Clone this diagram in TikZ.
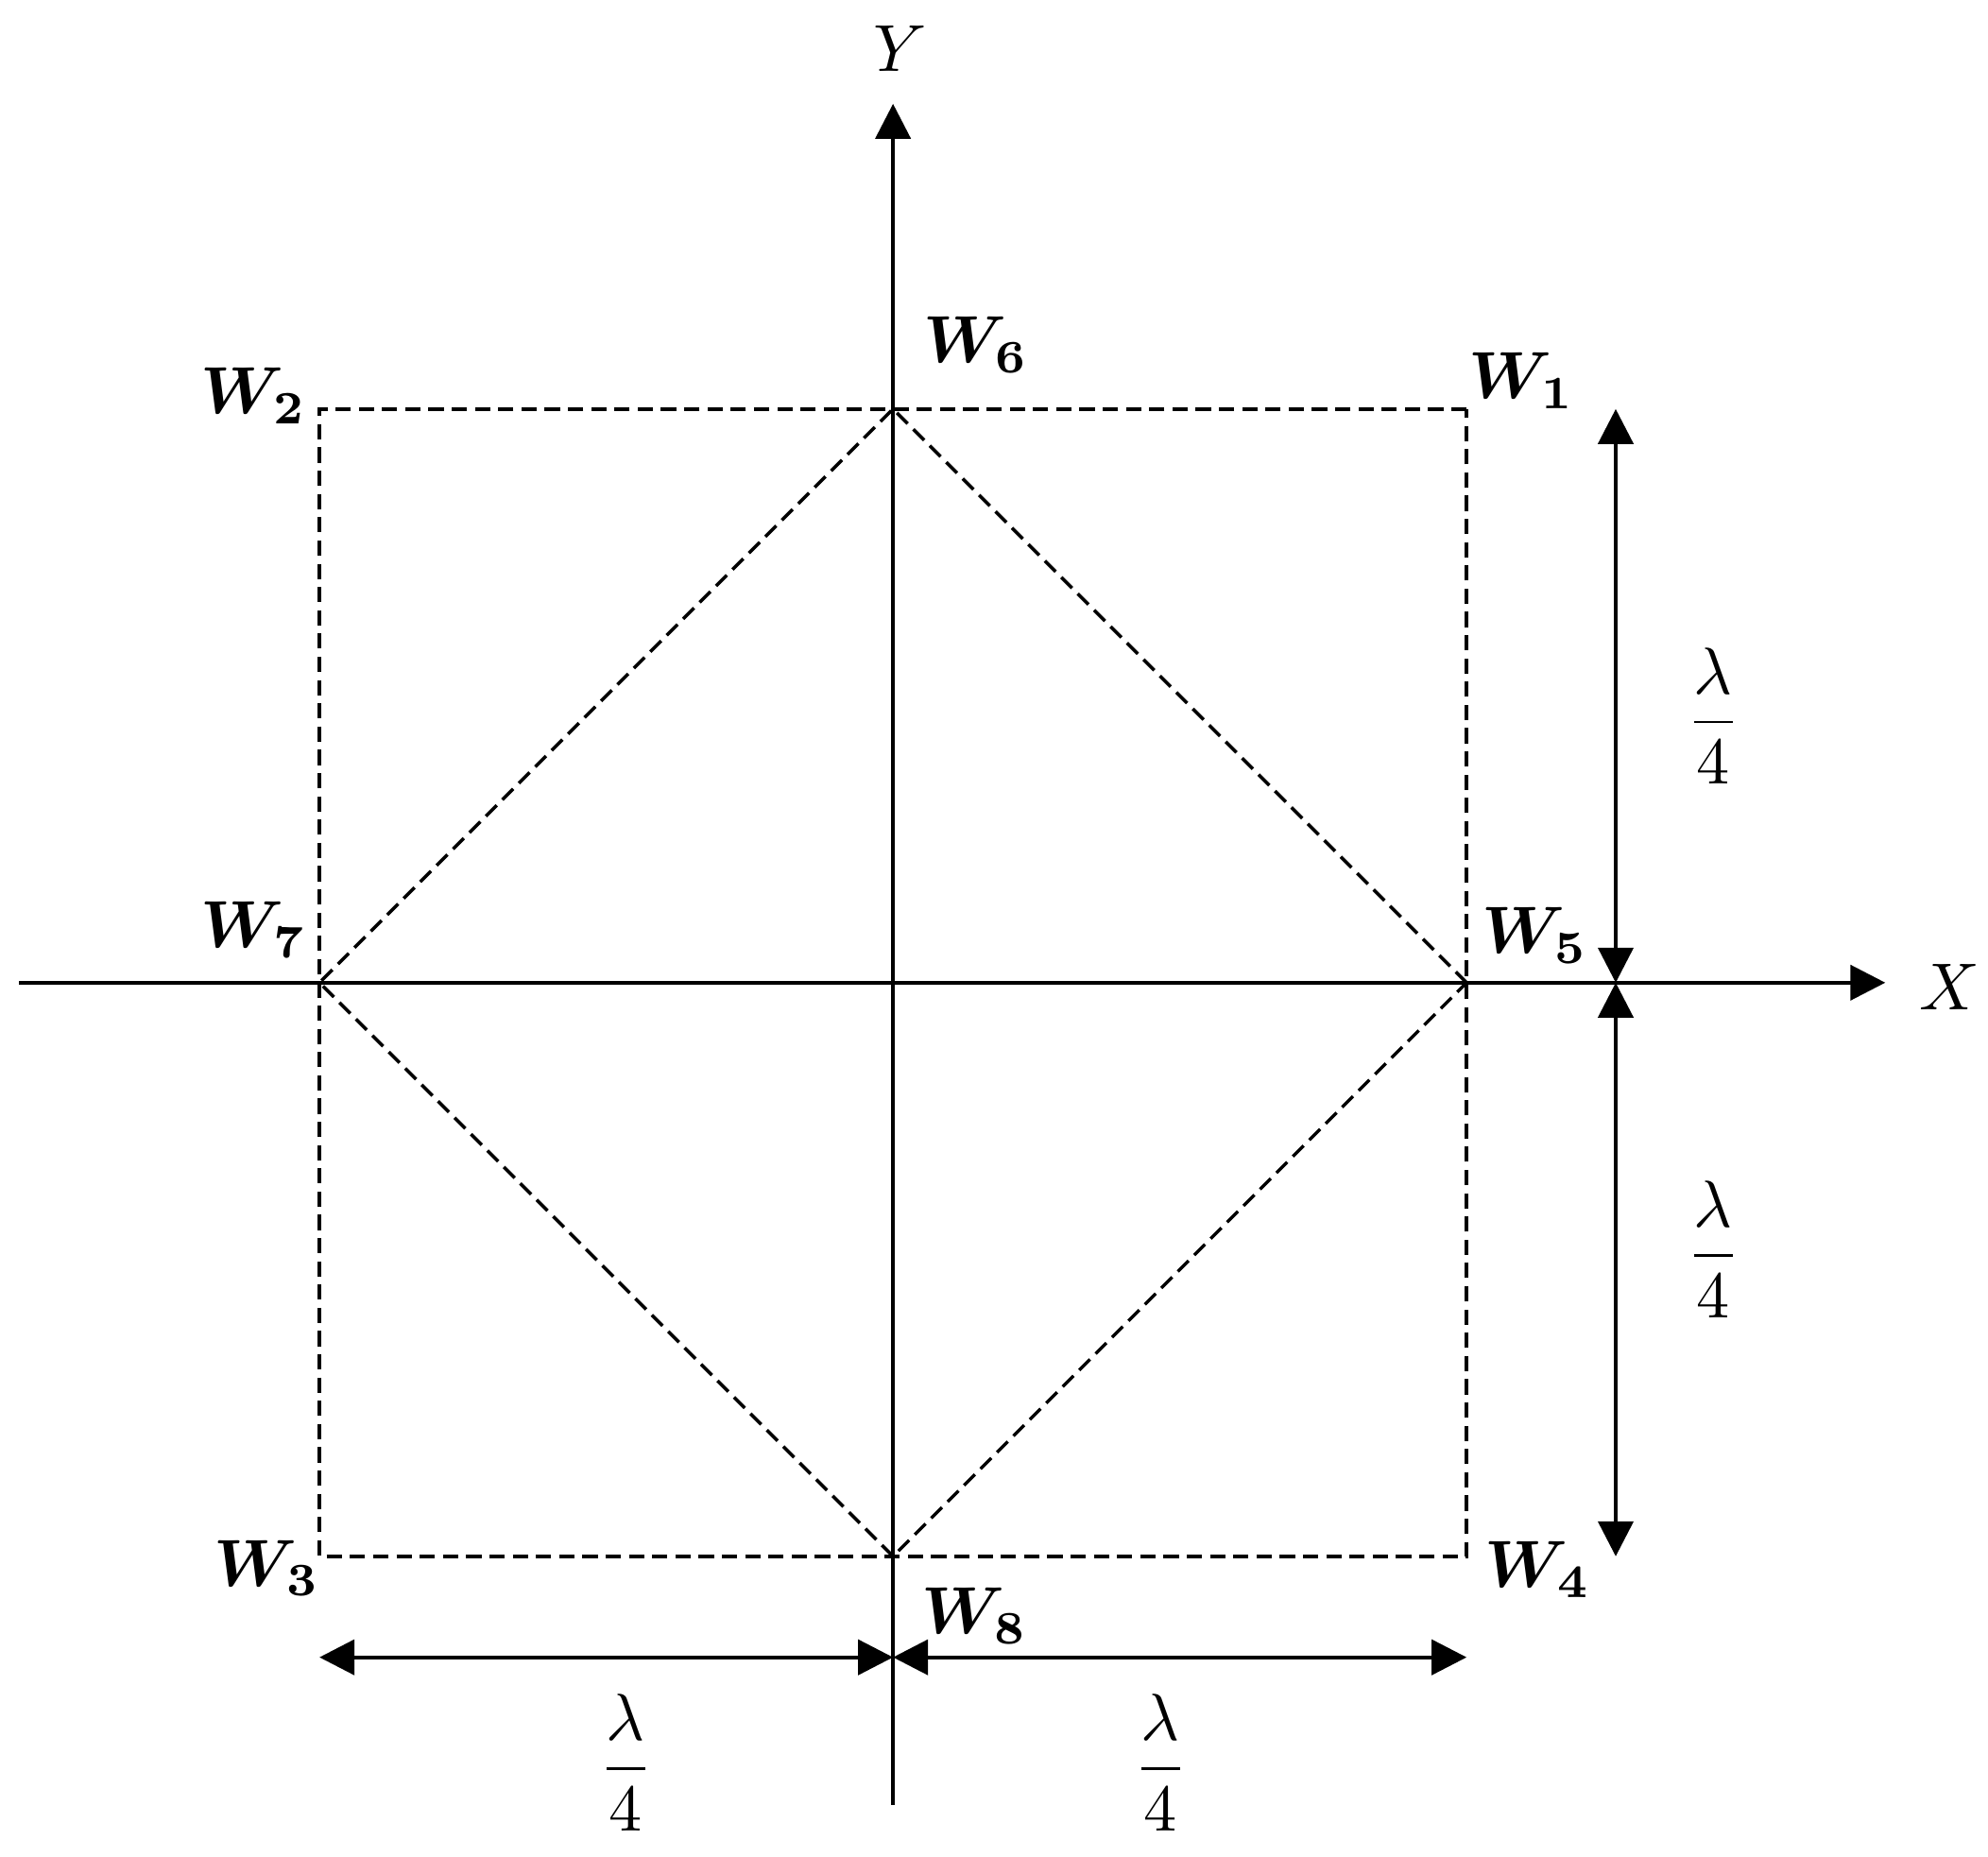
\documentclass[tikz,border=0pt]{standalone}
\usepackage{amsmath,bm}
\usetikzlibrary{arrows.meta}
\tikzset{
  tip/.tip={Triangle[width=1.85mm,length=1.85mm]},
  axis/.style={line width=0.6pt,-tip},
  dimline/.style={line width=0.6pt,tip-tip},
  guide/.style={line width=0.5pt,dash pattern=on 2.3pt off 1.2pt},
}
\begin{document}
\begin{tikzpicture}[x=3.035cm,y=3.035cm]
\useasboundingbox (-1.557,-1.524) rectangle (1.909,1.713);
% corners and mid points of the square
\coordinate (w1) at (1,1);
\coordinate (w2) at (-1,1);
\coordinate (w3) at (-1,-1);
\coordinate (w4) at (1,-1);
\coordinate (w5) at (1,0);
\coordinate (w6) at (0,1);
\coordinate (w7) at (-1,0);
\coordinate (w8) at (0,-1);
% axes
\coordinate (xl) at (-1.524,0);
\coordinate (xr) at (1.730,0);
\coordinate (yb) at (0,-1.433);
\coordinate (yt) at (0,1.532);
\draw[axis] (xl) -- (xr);
\draw[axis] (yb) -- (yt);
\node (xlab) at (1.842,-0.008) {$X$};
\node (ylab) at (0.012,1.628) {$Y$};
% square and diamond
\draw[guide] (w1) -- (w2) -- (w3) -- (w4) -- cycle;
\draw[guide] (w5) -- (w6) -- (w7) -- (w8) -- cycle;
\foreach \i/\x/\y in {1/1.096/1.049, 2/-1.115/1.023, 3/-1.092/-1.021, 4/1.125/-1.023,
  5/1.12/0.082, 6/0.145/1.112, 7/-1.115/0.092, 8/0.143/-1.104} % edit here for the labels
\node (lab\i) at (\x,\y) {$\bm{W_\i}$};
% dimensions
\coordinate (dr1) at (1.26,1);
\coordinate (dr0) at (1.26,0);
\coordinate (dr2) at (1.26,-1);
\coordinate (db1) at (-1,-1.176);
\coordinate (db0) at (0,-1.176);
\coordinate (db2) at (1,-1.176);
\draw[dimline] (dr0) -- (dr1);
\draw[dimline] (dr0) -- (dr2);
\draw[dimline] (db0) -- (db1);
\draw[dimline] (db0) -- (db2);
\foreach \n/\x/\y in {r1/1.43/0.465, r2/1.43/-0.465, b1/-0.466/-1.359, b2/0.466/-1.359}
\node (q\n) at (\x,\y) {$\dfrac{\lambda}{4}$};
\end{tikzpicture}
\end{document}
